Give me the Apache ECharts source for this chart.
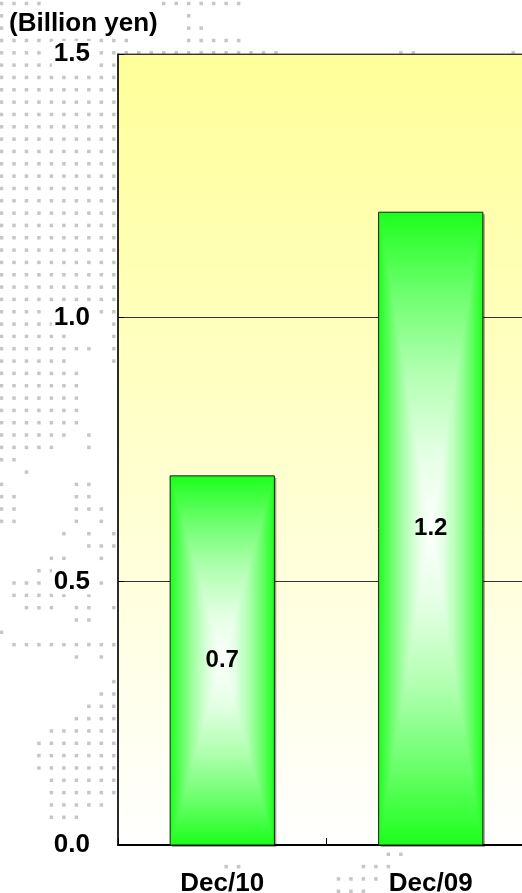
<!DOCTYPE html>
<html>
<head>
<meta charset="utf-8">
<title>Billion yen</title>
<script src="https://cdn.jsdelivr.net/npm/echarts@6/dist/echarts.min.js"></script>
<style>
  html, body { margin: 0; padding: 0; background: #ffffff; }
  #chart { width: 522px; height: 893px; }
</style>
</head>
<body>
<div id="chart"></div>
<script>
// Chart data
const categories = ['Dec/10', 'Dec/09'];
const values = [0.7, 1.2];
const yTicks = [0, 0.5, 1.0, 1.5];
const unitLabel = '(Billion yen)';

// Decorative dot-map backdrop: row index -> visible column ranges
const dotRows = [
  [0, '0-3,13-19'], [1, '0,15'], [2, '0,15-16'], [3, '0-10,15-19'],
  [4, '0-3,8-22,32-33,41'],
  [25, '0-3,8-9'], [26, '0-7,9'], [27, '0-5,9'], [28, '0-7,9'], [29, '0-5,9'],
  [30, '0-6'], [31, '0-6'], [32, '0-6'], [33, '0-6'], [34, '0-6'],
  [35, '0-5,7'], [36, '0-4,7'], [37, '0-1'], [38, '2'],
  [39, '0,6-7'], [40, '0-1,6-7'], [41, '0-1,6-8'], [42, '0-1,6,8'],
  [43, '5,7,9'], [44, '7-9'], [45, '4-5,8'], [46, '3-5'], [47, '1-3,8'],
  [48, '1-5,7'], [49, '2-4,6-7,9'], [50, '6-7'], [51, '0'], [52, '1-9'],
  [53, '6,8'], [55, '9'], [56, '8-9'], [57, '7-9'], [58, '6-9'], [59, '4-9'],
  [60, '3-9'], [61, '3-9'], [62, '3-9'], [63, '4-9'], [64, '4-9'],
  [65, '4-8'], [66, '4-6'],
  [69, '31-32'], [70, '18-19,29-31'], [71, '27-30'], [72, '27-29']
];
for (let k = 5; k <= 24; k++) dotRows.push([k, '0-9']);

const FONT = '"Liberation Sans", Arial, Helvetica, sans-serif';
const GREEN = '#1cff1c';
// edge (0) -> centre (1) ramp used inside the bars
const RAMP = [
  { offset: 0, color: GREEN },
  { offset: 0.25, color: '#6cff6c' },
  { offset: 0.5, color: '#b0ffb0' },
  { offset: 0.75, color: '#e2ffe2' },
  { offset: 1, color: '#ffffff' }
];

function buildDots() {
  const out = [];
  const stepX = 12.48, stepY = 12.33, ox = 1.5, oy = 3.5;
  dotRows.forEach(([k, spec]) => {
    spec.split(',').forEach(part => {
      const [a, b] = part.split('-').map(Number);
      const end = isNaN(b) ? a : b;
      for (let j = a; j <= end; j++) {
        out.push({
          type: 'rect',
          z: -10,
          silent: true,
          shape: { x: ox + j * stepX - 1.75, y: oy + k * stepY - 1.75, width: 3.5, height: 3.5 },
          style: { fill: '#c6c6c6' }
        });
      }
    });
  });
  return out;
}

function ramp(x, y, x2, y2, reverse) {
  const stops = RAMP.map(s => ({ offset: reverse ? 1 - s.offset : s.offset, color: s.color }));
  stops.sort((p, q) => p.offset - q.offset);
  return { type: 'linear', x, y, x2, y2, colorStops: stops };
}

function vertRamp() {
  const stops = [];
  RAMP.forEach(s => stops.push({ offset: s.offset * 0.5, color: s.color }));
  RAMP.slice(0, -1).forEach(s => stops.push({ offset: 1 - s.offset * 0.5, color: s.color }));
  stops.sort((p, q) => p.offset - q.offset);
  return { type: 'linear', x: 0, y: 0, x2: 0, y2: 1, colorStops: stops };
}

// Bars with a rectangular "from centre" gradient: white core, green edges
function renderBar(params, api) {
  const idx = api.value(0);
  const val = api.value(1);
  const topPt = api.coord([idx, val]);
  const basePt = api.coord([idx, 0]);
  const bw = api.size([1, 0])[0] * 0.5;
  const x0 = topPt[0] - bw / 2, x1 = x0 + bw;
  const y0 = topPt[1], y1 = basePt[1];
  const h = y1 - y0;
  const cx = (x0 + x1) / 2, cy = (y0 + y1) / 2;
  return {
    type: 'group',
    children: [
      { type: 'rect', shape: { x: x0 + 2, y: y0 + 2, width: bw, height: h },
        style: { fill: 'rgba(0,0,0,0.35)' } },
      { type: 'rect', shape: { x: x0, y: y0, width: bw, height: h },
        style: { fill: vertRamp() } },
      { type: 'polygon', shape: { points: [[x0, y0], [cx, cy], [x0, y1]] },
        style: { fill: ramp(0, 0, 1, 0, false) } },
      { type: 'polygon', shape: { points: [[x1, y0], [cx, cy], [x1, y1]] },
        style: { fill: ramp(0, 0, 1, 0, true) } },
      { type: 'rect', shape: { x: x0, y: y0, width: bw, height: h },
        style: { fill: 'none', stroke: '#1a1a1a', lineWidth: 1 } },
      { type: 'text', x: cx, y: cy,
        style: { text: val.toFixed(1), align: 'center', verticalAlign: 'middle',
          font: 'bold 24px ' + FONT, fill: '#000000' } }
    ]
  };
}

const chart = echarts.init(document.getElementById('chart'), null, { renderer: 'canvas' });

chart.setOption({
  animation: false,
  backgroundColor: '#ffffff',
  title: {
    text: unitLabel,
    left: 7, top: 11,
    padding: [0, 2],
    backgroundColor: '#ffffff',
    textStyle: { fontFamily: FONT, fontSize: 26, fontWeight: 'bold', color: '#000' }
  },
  graphic: { elements: buildDots() },
  grid: {
    left: 118, top: 54, width: 417, height: 791,
    outerBoundsMode: 'none',
    show: true,
    borderColor: '#555555', borderWidth: 1,
    backgroundColor: { type: 'linear', x: 0, y: 0, x2: 0, y2: 1, colorStops: [
      { offset: 0, color: '#ffff99' }, { offset: 1, color: '#ffffff' }
    ] }
  },
  xAxis: {
    type: 'category',
    data: categories,
    axisLine: { lineStyle: { color: '#000', width: 2 } },
    axisTick: { show: true, inside: true, length: 7, lineStyle: { color: '#000', width: 1 } },
    axisLabel: {
      interval: 0, margin: 26,
      fontFamily: FONT, fontSize: 26, fontWeight: 'bold', color: '#000',
      backgroundColor: '#ffffff', padding: [0, 2]
    },
    splitLine: { show: false }
  },
  yAxis: {
    type: 'value',
    min: yTicks[0], max: yTicks[yTicks.length - 1], interval: yTicks[1] - yTicks[0],
    axisLine: { show: true, lineStyle: { color: '#000', width: 1.5 } },
    axisTick: { show: true, inside: true, length: 6, lineStyle: { color: '#000' } },
    axisLabel: {
      margin: 26,
      formatter: v => v.toFixed(1),
      fontFamily: FONT, fontSize: 26, fontWeight: 'bold', color: '#000',
      backgroundColor: '#ffffff', padding: [0, 2]
    },
    splitLine: { show: true, lineStyle: { color: '#333333', width: 1 } }
  },
  series: [{
    type: 'custom',
    renderItem: renderBar,
    encode: { x: 0, y: 1 },
    data: categories.map((c, i) => [i, values[i]])
  }]
});
</script>
</body>
</html>
